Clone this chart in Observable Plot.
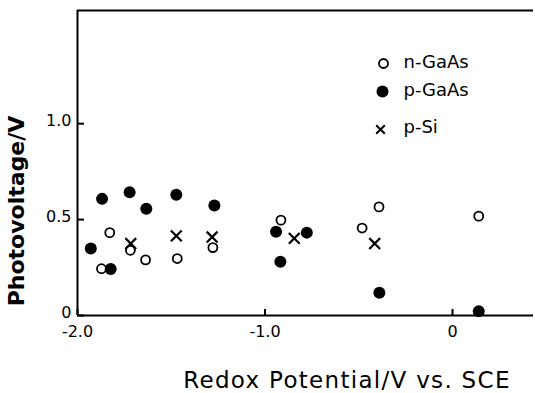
<!DOCTYPE html>
<html>
<head>
<meta charset="utf-8">
<script src="https://cdn.jsdelivr.net/npm/d3@7"></script>
<script src="https://cdn.jsdelivr.net/npm/@observablehq/plot@0.6"></script>
<style>
  html, body { margin: 0; padding: 0; background: #fff; }
  #chart svg { display: block; }
</style>
</head>
<body>
<div id="chart"></div>
<script>
// n-GaAs (open circles)
const nGaAsX = [-1.872, -1.828, -1.718, -1.637, -1.468, -1.278, -0.915, -0.482, -0.392, 0.14];
const nGaAsY = [0.244, 0.432, 0.34, 0.29, 0.297, 0.354, 0.497, 0.456, 0.566, 0.518];
// p-GaAs (filled circles)
const pGaAsX = [-1.929, -1.869, -1.823, -1.722, -1.633, -1.473, -1.27, -0.941, -0.918, -0.777, -0.39, 0.14];
const pGaAsY = [0.349, 0.608, 0.242, 0.642, 0.556, 0.63, 0.573, 0.437, 0.28, 0.432, 0.119, 0.022];
// p-Si (crosses)
const pSiX = [-1.716, -1.473, -1.282, -0.844, -0.415];
const pSiY = [0.375, 0.415, 0.409, 0.402, 0.375];

const xTicks = [-2, -1, 0];
const xTickLabels = ["-2.0", "-1.0", "0"];
const yTicks = [0, 0.5, 1.0];
const yTickLabels = ["0", "0.5", "1.0"];
const seriesNames = ["n-GaAs", "p-GaAs", "p-Si"];
const xLabel = "Redox Potential/V vs. SCE";
const yLabel = "Photovoltage/V";

const toRows = (xs, ys) => xs.map((x, i) => ({x, y: ys[i]}));
const nRows = toRows(nGaAsX, nGaAsY);
const pRows = toRows(pGaAsX, pGaAsY);
const sRows = toRows(pSiX, pSiY);

const W = 535, H = 393;
const mL = 77, mR = 2, mT = 10, mB = 78;
const fw = W - mL - mR, fh = H - mT - mB;
const font = "DejaVu Sans, sans-serif";

const chart = Plot.plot({
  width: W,
  height: H,
  marginLeft: mL,
  marginRight: mR,
  marginTop: mT,
  marginBottom: mB,
  style: {fontFamily: font, background: "#fff", color: "#000"},
  x: {domain: [-2.0, 0.432]},
  y: {domain: [0, 1.59]},
  marks: [
    // frame lines
    Plot.ruleY([0], {stroke: "#000", strokeWidth: 2}),
    Plot.ruleY([1.59], {stroke: "#000", strokeWidth: 2}),
    Plot.ruleX([-2.0], {stroke: "#000", strokeWidth: 2}),
    // inward ticks
    Plot.tickX(xTicks, {x: d => d, insetTop: fh - 6, stroke: "#000", strokeWidth: 2}),
    Plot.tickY(yTicks, {y: d => d, insetRight: fw - 7, stroke: "#000", strokeWidth: 2}),
    // axes labels
    Plot.axisX({ticks: xTicks, tickSize: 0, tickPadding: 10, tickFormat: d => xTickLabels[xTicks.indexOf(d)], fontSize: 16, label: null}),
    Plot.axisY({ticks: yTicks, tickSize: 0, tickPadding: 6, dy: -3, tickFormat: d => yTickLabels[yTicks.indexOf(d)], fontSize: 16, label: null}),
    // data
    Plot.dot(nRows, {x: "x", y: "y", r: 4.5, stroke: "#000", strokeWidth: 1.8, fill: "#fff"}),
    Plot.dot(pRows, {x: "x", y: "y", r: 6, fill: "#000", stroke: "none"}),
    Plot.dot(sRows, {x: "x", y: "y", symbol: "times", r: 5, stroke: "#000", strokeWidth: 2.2}),
    // legend
    Plot.dot([seriesNames[0]], {frameAnchor: "top-left", dx: 306, dy: 53, r: 4.5, stroke: "#000", strokeWidth: 1.8, fill: "#fff"}),
    Plot.dot([seriesNames[1]], {frameAnchor: "top-left", dx: 305, dy: 81, r: 6, fill: "#000", stroke: "none"}),
    Plot.dot([seriesNames[2]], {frameAnchor: "top-left", dx: 303, dy: 119, symbol: "times", r: 4, stroke: "#000", strokeWidth: 2}),
    Plot.text([seriesNames[0]], {text: d => d, frameAnchor: "top-left", lineAnchor: "middle", dx: 326, dy: 52, textAnchor: "start", fontSize: 18}),
    Plot.text([seriesNames[1]], {text: d => d, frameAnchor: "top-left", lineAnchor: "middle", dx: 326, dy: 80, textAnchor: "start", fontSize: 18}),
    Plot.text([seriesNames[2]], {text: d => d, frameAnchor: "top-left", lineAnchor: "middle", dx: 326, dy: 117, textAnchor: "start", fontSize: 18})
  ]
});

const svg = d3.select(chart);
// axis titles
svg.append("text")
  .attr("x", 347).attr("y", 381)
  .attr("text-anchor", "middle").attr("dominant-baseline", "middle")
  .attr("font-family", font).attr("font-size", 23).attr("letter-spacing", 1.3)
  .text(xLabel);
svg.append("text")
  .attr("transform", "translate(18,211) rotate(-90)")
  .attr("text-anchor", "middle").attr("dominant-baseline", "middle")
  .attr("font-family", font).attr("font-size", 22).attr("font-weight", "bold")
  .text(yLabel);

document.getElementById("chart").appendChild(chart);
</script>
</body>
</html>
